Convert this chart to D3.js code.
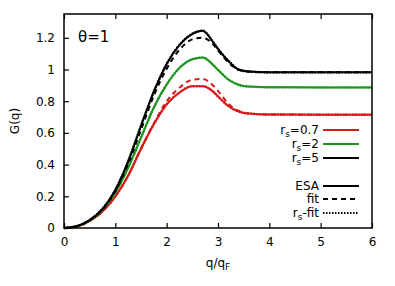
<!DOCTYPE html>
<html lang="en">
<head>
<meta charset="utf-8">
<title>G(q) theta=1</title>
<script src="https://cdn.jsdelivr.net/npm/d3@7"></script>
<style>
  body { margin: 0; background: #fff; }
  text { font-family: "DejaVu Sans", sans-serif; fill: #000; }
</style>
</head>
<body>
<script>
// q grid shared by all curves
var qGrid = [0, 0.25, 0.5, 0.75, 1, 1.25, 1.5, 1.75, 2, 2.25, 2.5, 2.7, 2.9, 3.0, 3.2, 3.4, 3.6, 4, 5, 6];

// ESA curves
var esa07 = [0, 0.01, 0.045, 0.105, 0.2, 0.33, 0.5, 0.655, 0.78, 0.855, 0.895, 0.895, 0.862, 0.83, 0.77, 0.735, 0.722, 0.716, 0.715, 0.715];
var esa2  = [0, 0.011, 0.048, 0.115, 0.225, 0.38, 0.57, 0.76, 0.905, 1.01, 1.065, 1.075, 1.03, 0.998, 0.937, 0.904, 0.892, 0.888, 0.887, 0.887];
var esa5  = [0, 0.012, 0.05, 0.12, 0.24, 0.42, 0.645, 0.86, 1.035, 1.155, 1.225, 1.245, 1.175, 1.13, 1.055, 1.0, 0.987, 0.982, 0.982, 0.982];

// fit curves (dashed)
var fit07 = [0, 0.01, 0.045, 0.105, 0.2, 0.33, 0.5, 0.66, 0.8, 0.885, 0.935, 0.94, 0.9, 0.865, 0.785, 0.74, 0.723, 0.716, 0.715, 0.715];
var fit5  = [0, 0.012, 0.05, 0.118, 0.232, 0.405, 0.62, 0.835, 1.005, 1.125, 1.19, 1.2, 1.16, 1.12, 1.045, 0.998, 0.986, 0.982, 0.982, 0.982];

// rs-fit curves (dotted) lie on top of ESA
var rsfit07 = esa07, rsfit2 = esa2, rsfit5 = esa5;

var xTicks = [0, 1, 2, 3, 4, 5, 6];
var yTicks = [0, 0.2, 0.4, 0.6, 0.8, 1, 1.2];

var red = "#d41c1c", green = "#1c961c", black = "#000";

var w = 395, h = 286;
var m = {left: 64, right: 372, top: 14, bottom: 228};

var x = d3.scaleLinear().domain([0, 6]).range([m.left, m.right]);
var y = d3.scaleLinear().domain([0, 1.35]).range([m.bottom, m.top]);

var svg = d3.select("body").append("svg").attr("width", w).attr("height", h);

var line = d3.line()
  .x(function(d, i) { return x(qGrid[i]); })
  .y(function(d) { return y(d); })
  .curve(d3.curveMonotoneX);

var series = [
  {v: esa07, c: red, dash: null},
  {v: fit07, c: red, dash: "5,4"},
  {v: rsfit07, c: red, dash: "1.5,1.5"},
  {v: esa2, c: green, dash: null},
  {v: rsfit2, c: green, dash: "1.5,1.5"},
  {v: esa5, c: black, dash: null},
  {v: fit5, c: black, dash: "5,4"},
  {v: rsfit5, c: black, dash: "1.5,1.5"}
];

svg.append("g").selectAll("path")
  .data(series)
  .enter()
  .append("path")
  .attr("d", function(d) { return line(d.v); })
  .attr("fill", "none")
  .attr("stroke", function(d) { return d.c; })
  .attr("stroke-width", function(d) { return d.dash == "1.5,1.5" ? 2.4 : 2; })
  .attr("stroke-dasharray", function(d) { return d.dash; });

// axes, gnuplot style: ticks inward
var fmt = d3.format("~g");
var xAxis = d3.axisBottom(x).tickValues(xTicks).tickFormat(fmt).tickSizeInner(-5).tickSizeOuter(0).tickPadding(9);
var yAxis = d3.axisLeft(y).tickValues(yTicks).tickFormat(fmt).tickSizeInner(-5).tickSizeOuter(0).tickPadding(9);
var xTop = d3.axisTop(x).tickValues(xTicks).tickSizeInner(-5).tickSizeOuter(0).tickFormat("");

svg.append("g").attr("transform", "translate(0," + m.bottom + ")").call(xAxis);
svg.append("g").attr("transform", "translate(" + m.left + ",0)").call(yAxis);
svg.append("g").attr("transform", "translate(0," + m.top + ")").call(xTop);

svg.selectAll(".domain").remove();
svg.selectAll(".tick line").attr("stroke", "#000").attr("stroke-width", 1.2);
svg.selectAll(".tick text").style("font-size", "12px").attr("fill", "#000");

svg.append("rect")
  .attr("x", m.left).attr("y", m.top)
  .attr("width", m.right - m.left).attr("height", m.bottom - m.top)
  .attr("fill", "none").attr("stroke", "#000").attr("stroke-width", 1.5);

// labels
svg.append("text").attr("x", 218).attr("y", 267).attr("text-anchor", "middle").style("font-size", "12px")
  .call(function(t) {
    t.append("tspan").text("q/q");
    t.append("tspan").attr("dy", 3).style("font-size", "9px").text("F");
  });
svg.append("text").attr("transform", "translate(19,121) rotate(-90)").attr("text-anchor", "middle")
  .style("font-size", "12px").text("G(q)");
svg.append("text").attr("x", 78).attr("y", 42).style("font-size", "15px").text("θ=1");

// legend
var legend = [
  {pre: "r", sub: "s", post: "=0.7", c: red, dash: null, y: 130},
  {pre: "r", sub: "s", post: "=2", c: green, dash: null, y: 144},
  {pre: "r", sub: "s", post: "=5", c: black, dash: null, y: 158},
  {pre: "ESA", sub: "", post: "", c: black, dash: null, y: 186},
  {pre: "fit", sub: "", post: "", c: black, dash: "5,4", y: 199},
  {pre: "r", sub: "s", post: "-fit", c: black, dash: "1.5,1.5", y: 213}
];

var lg = svg.append("g").selectAll("g").data(legend).enter().append("g");
lg.append("line")
  .attr("x1", 323).attr("x2", 359)
  .attr("y1", function(d) { return d.y; }).attr("y2", function(d) { return d.y; })
  .attr("stroke", function(d) { return d.c; })
  .attr("stroke-width", 2)
  .attr("stroke-dasharray", function(d) { return d.dash; });
var lt = lg.append("text")
  .attr("x", 319).attr("y", function(d) { return d.y + 4; })
  .attr("text-anchor", "end").style("font-size", "12px");
lt.append("tspan").text(function(d) { return d.pre; });
lt.append("tspan").attr("dy", function(d) { return d.sub ? 3 : 0; }).style("font-size", "9px")
  .text(function(d) { return d.sub; });
lt.append("tspan").attr("dy", function(d) { return d.sub ? -3 : 0; }).text(function(d) { return d.post; });
</script>
</body>
</html>
